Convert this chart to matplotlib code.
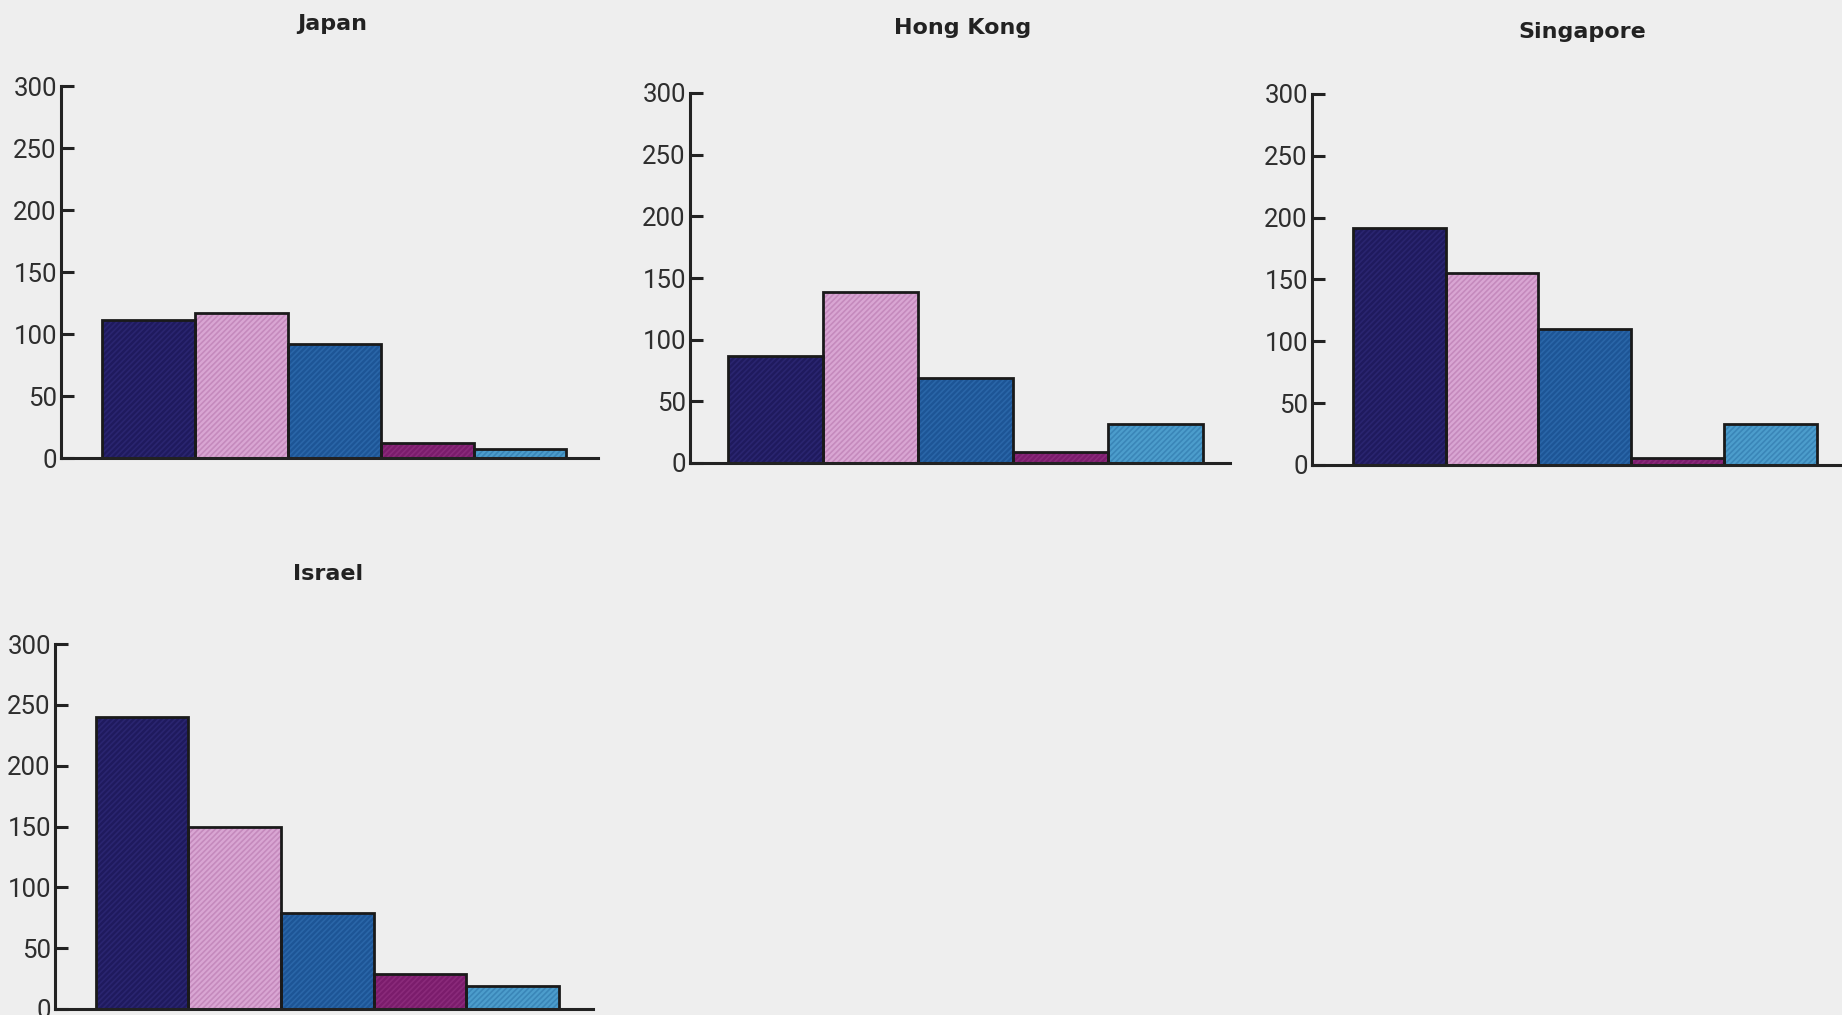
import matplotlib
matplotlib.use("Agg")
import matplotlib.pyplot as plt

# values (same five series in every panel)
countries = ["Japan", "Hong Kong", "Singapore", "Israel"]
japan = [111, 117, 92, 12, 7]
hong_kong = [87, 139, 69, 9, 32]
singapore = [192, 155, 110, 6, 33]
israel = [240, 150, 79, 29, 19]
yticks = [0, 50, 100, 150, 200, 250, 300]

fills = ["#1f1a5e", "#d9a6d3", "#1d5596", "#7b1c6c", "#4c9dcc"]
hatch_cols = ["#2a2570", "#c58abd", "#2a66a8", "#8a2a7a", "#3a86b8"]

W, H = 1842, 1015
bg = "#eeeeee"

# axes boxes in pixels: left, right, top, bottom, xlim left, xlim right
boxes = [
    (61, 598, 86, 458, -0.94, 4.84),
    (690, 1230, 93, 463, -0.90, 4.78),
    (1312, 1842, 94, 465, -0.94, 4.77),
    (55, 593, 644, 1009, -0.94, 4.87),
]
titles_xy = [(332, 24), (963, 28), (1582, 32), (328, 574)]

plt.rcParams["hatch.linewidth"] = 1.2
plt.rcParams["font.family"] = ["Roboto", "DejaVu Sans"]

fig = plt.figure(figsize=(W / 100, H / 100), dpi=100)
fig.patch.set_facecolor(bg)

for name, vals, (x0, x1, top, bot, xl, xr), (tx, ty) in zip(
        countries, [japan, hong_kong, singapore, israel], boxes, titles_xy):
    ax = fig.add_axes([x0 / W, (H - bot) / H, (x1 - x0) / W, (bot - top) / H])
    ax.set_facecolor("none")
    xs = list(range(len(vals)))
    for i, v in enumerate(vals):
        ax.bar(i, v, width=1.0, color=fills[i], edgecolor=hatch_cols[i],
               hatch="//////", linewidth=0, zorder=2)
    ax.bar(xs, vals, width=1.0, facecolor="none", edgecolor="#1a1a1a",
           linewidth=2.0, zorder=3)
    ax.set_xlim(xl, xr)
    ax.set_ylim(0, 300)
    ax.set_yticks(yticks)
    ax.set_xticks([])
    for s in ["top", "right"]:
        ax.spines[s].set_visible(False)
    for s in ["left", "bottom"]:
        ax.spines[s].set_linewidth(2.2)
        ax.spines[s].set_color("#222222")
        ax.spines[s].set_zorder(4)
    ax.tick_params(axis="y", direction="in", length=9, width=2.2,
                   color="#222222", labelsize=18.5, labelcolor="#2e2e2e", pad=3)
    fig.text(tx / W, 1 - ty / H, name, ha="center", va="center",
             fontsize=16, fontweight="bold", color="#222222",
             family=["DejaVu Sans"])

fig.savefig("out.png", dpi=100, facecolor=bg)
